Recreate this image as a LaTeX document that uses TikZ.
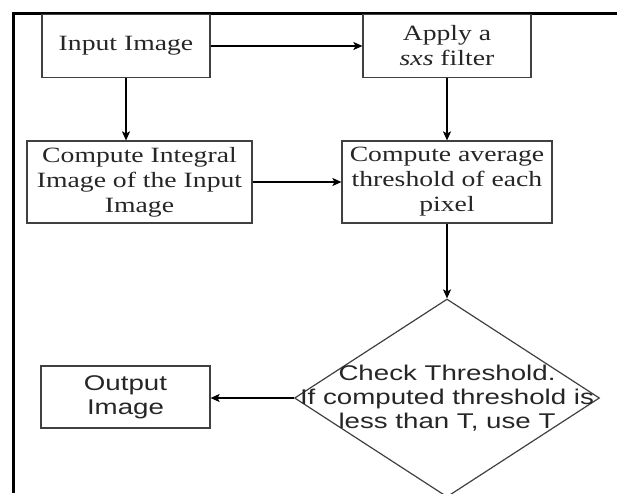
\documentclass[tikz,border=0pt]{standalone}
\usepackage{fontspec}
\setmainfont[FakeStretch=1.27]{Liberation Serif}
\newfontfamily\arialfont[FakeStretch=1.3]{Liberation Sans}
\usetikzlibrary{shapes.geometric,arrows.meta}

\tikzset{
  stepbox/.style={draw=black!75, line width=1.2pt, inner sep=0pt, align=center,
    text=black!85, font=\fontsize{21.8}{25}\selectfont},
  sansbox/.style={stepbox, font=\arialfont\fontsize{21.3}{24}\selectfont},
  decision/.style={diamond, draw=black!75, line width=1.2pt, inner sep=0pt,
    minimum width=305pt, minimum height=198pt},
  flow/.style={draw=black, line width=1.2pt, -{Stealth[length=9pt,width=8pt,inset=2pt]}},
}

\begin{document}
\begin{tikzpicture}[x=1pt, y=-1pt]
  \useasboundingbox (0,0) rectangle (617,493);

  % page frame: top and left rules
  \draw[line width=3pt] (617,13) -- (13,13) -- (13,493);

  % process boxes
  \node[stepbox, minimum width=168pt, minimum height=63pt] (inimg) at (126,46) {Input Image};
  \node[stepbox, minimum width=168pt, minimum height=63pt] (filt) at (447,46) {Apply a\\\textit{sxs} filter};
  \node[stepbox, minimum width=225pt, minimum height=82pt] (integ) at (139.5,182) {Compute Integral\\Image of the Input\\Image};
  \node[stepbox, minimum width=210pt, minimum height=82pt] (avg) at (447,182) {Compute average\\threshold of each\\pixel};

  % decision and output
  \node[decision] (chk) at (447,398) {};
  \node[align=center, text=black!85, font=\arialfont\fontsize{21.3}{24}\selectfont] (chktxt) at (447,398)
    {Check Threshold.\\If computed threshold is\\less than T, use T};
  \node[sansbox, minimum width=169pt, minimum height=62pt] (out) at (125.5,397) {Output\\Image};

  % connectors
  \draw[flow] (inimg) -- (filt);
  \draw[flow] (inimg.south) -- (inimg.south |- integ.north);
  \draw[flow] (filt) -- (avg);
  \draw[flow] (integ) -- (avg);
  \draw[flow] (avg) -- (chk.north);
  \draw[flow] (chk.west) -- (chk.west -| out.east);
\end{tikzpicture}
\end{document}
